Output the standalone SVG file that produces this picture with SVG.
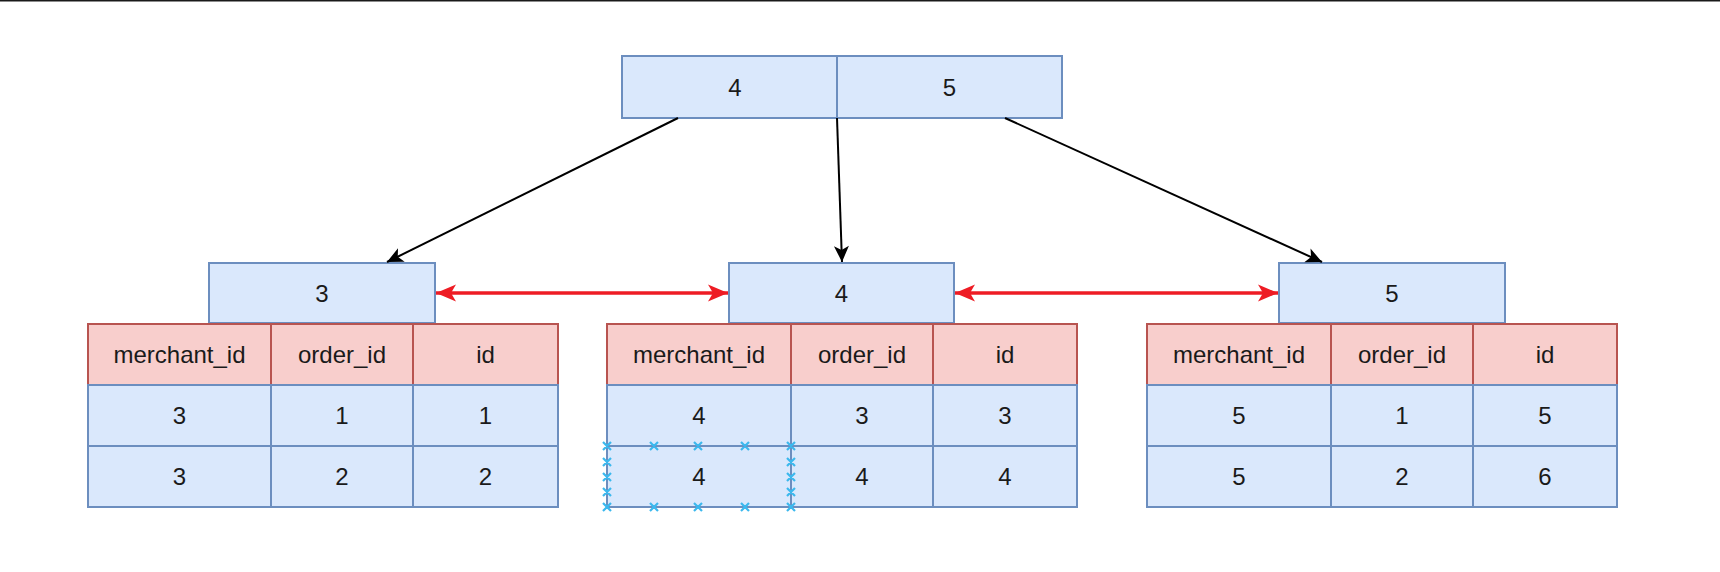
<svg xmlns="http://www.w3.org/2000/svg" width="1720" height="572" viewBox="0 0 1720 572">
<style>
.b{fill:#dae8fc;stroke:#6c8ebf;stroke-width:2}
.r{fill:#f8cecc;stroke:#b85450;stroke-width:2}
.t{font-family:"Liberation Sans",Arial,sans-serif;font-size:24px;fill:#1a1a1a;text-anchor:middle}
.k{stroke:#000;stroke-width:2;fill:none}
.rd{stroke:#ee1c24;stroke-width:3.5;fill:none}
.x{stroke:#3bb8ee;stroke-width:2.2;fill:none}
</style>
<defs>
<marker id="ak" markerUnits="userSpaceOnUse" viewBox="0 0 18 18" refX="17" refY="9" markerWidth="18" markerHeight="18" orient="auto">
<path d="M1,1.5 L17,9 L1,16.5 L5,9 Z" fill="#000"/>
</marker>
<marker id="ar" markerUnits="userSpaceOnUse" viewBox="0 0 22 20" refX="21" refY="10" markerWidth="22" markerHeight="20" orient="auto-start-reverse">
<path d="M1,1.5 L21,10 L1,18.5 L6,10 Z" fill="#ee1c24"/>
</marker>
</defs>
<rect x="0" y="0" width="1720" height="1.5" fill="#1a1a1a"/>

<g id="root">
<rect class="b" x="622" y="56" width="226" height="62"/>
<rect class="b" x="837" y="56" width="225" height="62"/>
<text class="t" x="735" y="95.5">4</text>
<text class="t" x="949.5" y="95.5">5</text>
</g>

<g id="leaf3">
<rect class="b" x="209" y="263" width="226" height="60"/>
<text class="t" x="322" y="301.5">3</text>
<rect class="r" x="88" y="324" width="183" height="61"/>
<rect class="r" x="271" y="324" width="142" height="61"/>
<rect class="r" x="413" y="324" width="145" height="61"/>
<text class="t" x="179.5" y="363">merchant_id</text>
<text class="t" x="342" y="363">order_id</text>
<text class="t" x="485.5" y="363">id</text>
<rect class="b" x="88" y="385" width="183" height="61"/>
<rect class="b" x="271" y="385" width="142" height="61"/>
<rect class="b" x="413" y="385" width="145" height="61"/>
<text class="t" x="179.5" y="424">3</text>
<text class="t" x="342" y="424">1</text>
<text class="t" x="485.5" y="424">1</text>
<rect class="b" x="88" y="446" width="183" height="61"/>
<rect class="b" x="271" y="446" width="142" height="61"/>
<rect class="b" x="413" y="446" width="145" height="61"/>
<text class="t" x="179.5" y="485">3</text>
<text class="t" x="342" y="485">2</text>
<text class="t" x="485.5" y="485">2</text>
</g>

<g id="leaf4">
<rect class="b" x="729" y="263" width="225" height="60"/>
<text class="t" x="841.5" y="301.5">4</text>
<rect class="r" x="607" y="324" width="184" height="61"/>
<rect class="r" x="791" y="324" width="142" height="61"/>
<rect class="r" x="933" y="324" width="144" height="61"/>
<text class="t" x="699" y="363">merchant_id</text>
<text class="t" x="862" y="363">order_id</text>
<text class="t" x="1005" y="363">id</text>
<rect class="b" x="607" y="385" width="184" height="61"/>
<rect class="b" x="791" y="385" width="142" height="61"/>
<rect class="b" x="933" y="385" width="144" height="61"/>
<text class="t" x="699" y="424">4</text>
<text class="t" x="862" y="424">3</text>
<text class="t" x="1005" y="424">3</text>
<rect class="b" x="607" y="446" width="184" height="61"/>
<rect class="b" x="791" y="446" width="142" height="61"/>
<rect class="b" x="933" y="446" width="144" height="61"/>
<text class="t" x="699" y="485">4</text>
<text class="t" x="862" y="485">4</text>
<text class="t" x="1005" y="485">4</text>
</g>

<g id="leaf5">
<rect class="b" x="1279" y="263" width="226" height="60"/>
<text class="t" x="1392" y="301.5">5</text>
<rect class="r" x="1147" y="324" width="184" height="61"/>
<rect class="r" x="1331" y="324" width="142" height="61"/>
<rect class="r" x="1473" y="324" width="144" height="61"/>
<text class="t" x="1239" y="363">merchant_id</text>
<text class="t" x="1402" y="363">order_id</text>
<text class="t" x="1545" y="363">id</text>
<rect class="b" x="1147" y="385" width="184" height="61"/>
<rect class="b" x="1331" y="385" width="142" height="61"/>
<rect class="b" x="1473" y="385" width="144" height="61"/>
<text class="t" x="1239" y="424">5</text>
<text class="t" x="1402" y="424">1</text>
<text class="t" x="1545" y="424">5</text>
<rect class="b" x="1147" y="446" width="184" height="61"/>
<rect class="b" x="1331" y="446" width="142" height="61"/>
<rect class="b" x="1473" y="446" width="144" height="61"/>
<text class="t" x="1239" y="485">5</text>
<text class="t" x="1402" y="485">2</text>
<text class="t" x="1545" y="485">6</text>
</g>

<g id="selection">
<path class="x" d="M603,442l8,8m0,-8l-8,8 M650,442l8,8m0,-8l-8,8 M694,442l8,8m0,-8l-8,8 M741,442l8,8m0,-8l-8,8 M787,442l8,8m0,-8l-8,8
M603,503l8,8m0,-8l-8,8 M650,503l8,8m0,-8l-8,8 M694,503l8,8m0,-8l-8,8 M741,503l8,8m0,-8l-8,8 M787,503l8,8m0,-8l-8,8
M603,458l8,8m0,-8l-8,8 M603,473l8,8m0,-8l-8,8 M603,488l8,8m0,-8l-8,8
M787,458l8,8m0,-8l-8,8 M787,473l8,8m0,-8l-8,8 M787,488l8,8m0,-8l-8,8"/>
</g>

<g id="connectors">
<line class="k" x1="678" y1="118" x2="387" y2="262" marker-end="url(#ak)"/>
<line class="k" x1="837" y1="118" x2="842" y2="262" marker-end="url(#ak)"/>
<line class="k" x1="1005" y1="118" x2="1322" y2="262" marker-end="url(#ak)"/>
<line class="rd" x1="436" y1="293" x2="728" y2="293" marker-start="url(#ar)" marker-end="url(#ar)"/>
<line class="rd" x1="955" y1="293" x2="1278" y2="293" marker-start="url(#ar)" marker-end="url(#ar)"/>
</g>
</svg>
